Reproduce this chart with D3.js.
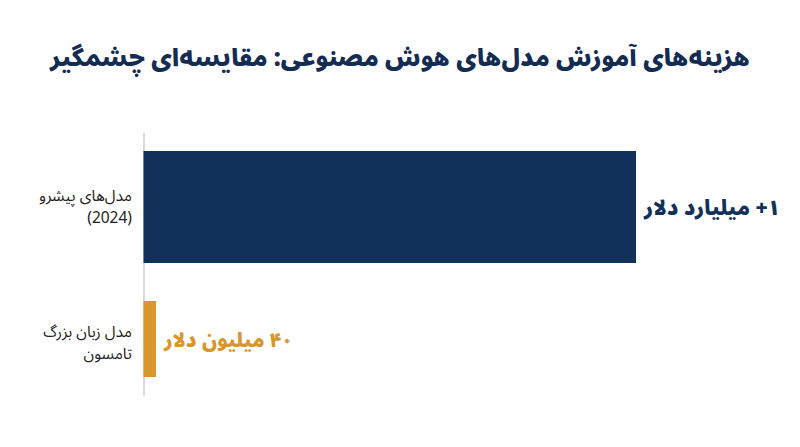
<!DOCTYPE html>
<html>
<head>
    <meta charset="utf-8">
    <title>AI training cost</title>
    <script src="https://d3js.org/d3.v7.min.js"></script>
    <style>
        body { margin: 0; background: #fff; }
        svg text { font-family: "Noto Sans Arabic", "Vazirmatn", "DejaVu Sans", sans-serif; }
    </style>
</head>
<body>
<svg id="chart" width="800" height="447"></svg>
<script>
    // data (cost in millions of dollars)
    const categories = ['مدل‌های پیشرو|(2024)', 'مدل زبان بزرگ|تامسون'];
    const costs = [1640, 40];
    const valueLabels = ['۱+ میلیارد دلار', '۴۰ میلیون دلار'];
    const titleText = 'هزینه‌های آموزش مدل‌های هوش مصنوعی: مقایسه‌ای چشمگیر';

    const colors = ['#12315a', '#d9962b'];
    const barHeights = [112, 76];

    const svg = d3.select('#chart');

    // shrink a text until it fits the wanted width
    function fit(sel, w) {
        const len = sel.node().getComputedTextLength();
        if (len > w) {
            const fs = parseFloat(sel.attr('font-size'));
            sel.attr('font-size', fs * w / len);
        }
    }

    const title = svg.append('text')
        .attr('x', 400)
        .attr('y', 58)
        .attr('dy', '0.35em')
        .attr('text-anchor', 'middle')
        .attr('fill', '#142c52')
        .attr('font-size', 30)
        .attr('font-weight', 900)
        .attr('direction', 'rtl')
        .text(titleText);
    fit(title, 700);

    const x = d3.scaleLinear()
        .domain([0, d3.max(costs)])
        .range([144, 636]);

    const y = d3.scalePoint()
        .domain(categories)
        .range([207, 339]);

    svg.append('line')
        .attr('x1', 144).attr('x2', 144)
        .attr('y1', 133).attr('y2', 396)
        .attr('stroke', '#b5b5b5')
        .attr('stroke-width', 1);

    svg.selectAll('rect.bar')
        .data(categories)
        .enter().append('rect')
        .attr('class', 'bar')
        .attr('x', x(0) - 0.5)
        .attr('y', (d, i) => y(d) - barHeights[i] / 2)
        .attr('width', (d, i) => x(costs[i]) - x(0) + 0.5)
        .attr('height', (d, i) => barHeights[i])
        .attr('fill', (d, i) => colors[i]);

    // value labels
    const labelW = [136, 129];
    svg.selectAll('text.val')
        .data(categories)
        .enter().append('text')
        .attr('class', 'val')
        .attr('x', (d, i) => x(costs[i]) + 8)
        .attr('y', d => y(d) + 1)
        .attr('dy', '0.35em')
        .attr('direction', 'rtl')
        .attr('text-anchor', 'end')
        .attr('font-size', 25)
        .attr('font-weight', 900)
        .attr('fill', (d, i) => colors[i])
        .text((d, i) => valueLabels[i])
        .each(function(d, i) { fit(d3.select(this), labelW[i]); });

    // category labels, two lines each
    categories.forEach((c, i) => {
        const lines = c.split('|');
        const top = y(c) + (i === 0 ? -11 : -7);
        lines.forEach((l, j) => {
            svg.append('text')
                .attr('x', 132)
                .attr('y', top + j * 22)
                .attr('dy', '0.35em')
                .attr('direction', 'rtl')
                .attr('text-anchor', 'start')
                .attr('font-size', 15.5)
                .attr('fill', '#222')
                .text(l);
        });
    });
</script>
</body>
</html>
